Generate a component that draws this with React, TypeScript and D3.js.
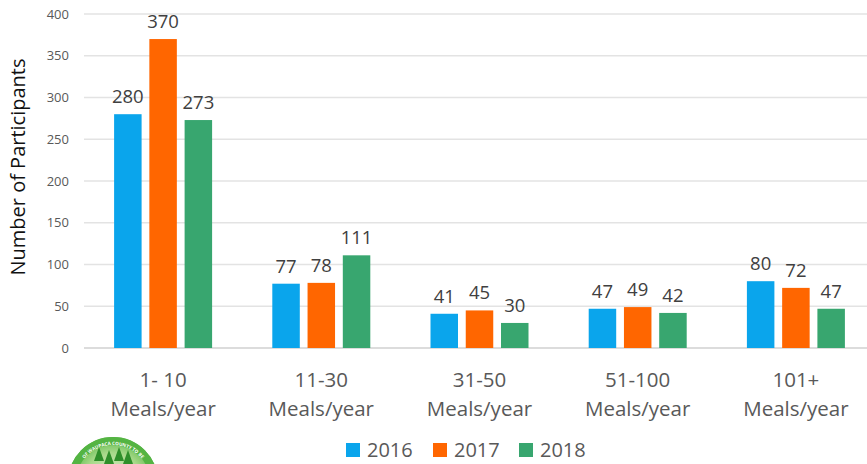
import React from "react";
import * as d3 from "d3";

const categories = ["1- 10|Meals/year", "11-30|Meals/year", "31-50|Meals/year", "51-100|Meals/year", "101+|Meals/year"];
const seriesNames = ["2016", "2017", "2018"];
const values2016 = [280, 77, 41, 47, 80];
const values2017 = [370, 78, 45, 49, 72];
const values2018 = [273, 111, 30, 42, 47];
const yTicks = [0, 50, 100, 150, 200, 250, 300, 350, 400];
const colors = ["#0AA5EC", "#FF6600", "#38A66F"];

const W = 867;
const H = 464;
const FONT = "'Open Sans', sans-serif";

export default function App() {
  const series = [values2016, values2017, values2018];
  const x = d3.scaleBand<string>().domain(categories).range([84, 875]).paddingInner(0).paddingOuter(0);
  const inner = d3.scaleBand<string>().domain(seriesNames).range([-49, 49]).paddingInner(0.22);
  const y = d3.scaleLinear().domain([0, 400]).range([348, 14]);

  const logoCx = 113, logoCy = 482, logoR = 45;
  const arcId = "logoArc";
  const trees = [-14, -4, 6, 15];
  const ar = 37;
  const a0 = (-55 * Math.PI) / 180, a1 = (55 * Math.PI) / 180;

  return (
    <svg width={W} height={H} style={{ position: "absolute", left: 0, top: 0, background: "#fff" }} fontFamily={FONT}>
      {yTicks.map((t) => (
        <g key={t}>
          <line x1={84} x2={W} y1={y(t)} y2={y(t)} stroke={t === 0 ? "#d0d0d0" : "#e3e3e3"} strokeWidth={1.3} />
          <text x={69} y={y(t)} dy="0.35em" textAnchor="end" fontSize={13} fill="#595959">{t}</text>
        </g>
      ))}
      <text transform={`translate(25,167) rotate(-90)`} textAnchor="middle" fontSize={20} fill="#111">Number of Participants</text>
      {categories.map((c, ci) => {
        const cx = (x(c) as number) + x.bandwidth() / 2;
        const [l1, l2] = c.split("|");
        return (
          <g key={c}>
            {series.map((vals, si) => {
              const bx = cx + (inner(seriesNames[si]) as number);
              const v = vals[ci];
              return (
                <g key={si}>
                  <rect x={bx} y={y(v)} width={inner.bandwidth()} height={y(0) - y(v)} fill={colors[si]} />
                  <text x={bx + inner.bandwidth() / 2} y={y(v) - 11} textAnchor="middle" fontSize={18.5} fill="#404040">{v}</text>
                </g>
              );
            })}
            <text x={cx} y={387} textAnchor="middle" fontSize={20.5} fill="#595959">{l1}</text>
            <text x={cx} y={416} textAnchor="middle" fontSize={20.5} fill="#595959">{l2}</text>
          </g>
        );
      })}
      {seriesNames.map((s, i) => {
        const lx = [346, 433, 519][i];
        return (
          <g key={s}>
            <rect x={lx} y={443} width={14} height={14} fill={colors[i]} />
            <text x={lx + 21} y={457} fontSize={20} fill="#595959">{s}</text>
          </g>
        );
      })}
      <defs>
        <radialGradient id="logoGrad" cx="50%" cy="50%" r="50%">
          <stop offset="0%" stopColor="#e4f3d8" />
          <stop offset="65%" stopColor="#a8d98a" />
          <stop offset="100%" stopColor="#5cb94a" />
        </radialGradient>
        <path id={arcId} d={`M ${logoCx + ar * Math.sin(a0)} ${logoCy - ar * Math.cos(a0)} A ${ar} ${ar} 0 0 1 ${logoCx + ar * Math.sin(a1)} ${logoCy - ar * Math.cos(a1)}`} />
      </defs>
      <circle cx={logoCx} cy={logoCy} r={logoR} fill="url(#logoGrad)" />
      <circle cx={logoCx} cy={logoCy} r={logoR - 4} fill="none" stroke="#54b443" strokeWidth={8} />
      <text fontSize={4.6} fill="#fff" fontWeight="bold">
        <textPath href={`#${arcId}`} startOffset="50%" textAnchor="middle">OF WAUPACA COUNTY TO BE</textPath>
      </text>
      {trees.map((dx, i) => (
        <path key={i} d={`M ${logoCx + dx} ${logoCy - 35 + (i % 2) * 3} l -5 14 h 10 z`} fill="#2f8f2a" />
      ))}
    </svg>
  );
}
